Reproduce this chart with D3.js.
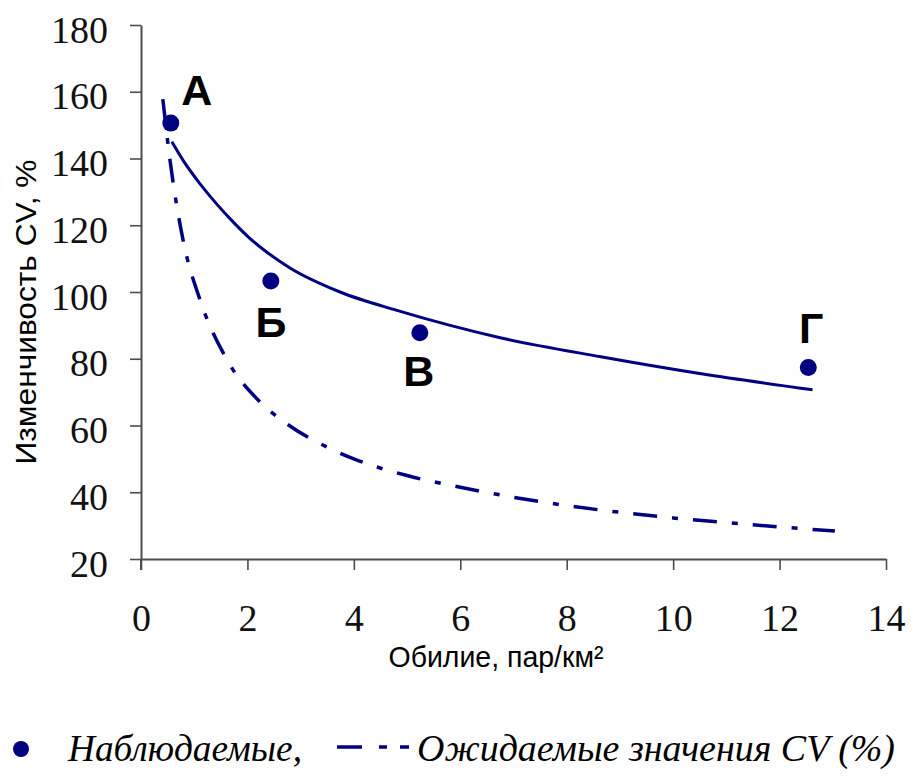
<!DOCTYPE html>
<html>
<head>
<meta charset="utf-8">
<script src="https://cdn.jsdelivr.net/npm/d3@7"></script>
<style>
  body { margin: 0; background: #fff; }
  svg { display: block; }
</style>
</head>
<body>
<div id="chart"></div>
<script>
// observed CV values
const obsX = [0.56, 2.44, 5.24, 12.54];
const obsY = [150.6, 103.3, 87.8, 77.4];
const obsLabels = ["А", "Б", "В", "Г"];

// fitted curve (solid)
const fitX = [0.58, 0.8, 1.11, 1.42, 1.73, 2.05, 2.36, 2.8, 3.74, 4.81, 5.81, 6.75, 8.64, 10.53, 12.62];
const fitY = [145, 139.2, 132.4, 126.4, 121, 116, 112, 107.2, 100, 94.5, 90, 86.3, 80.6, 75.5, 70.7];

// expected CV (dash-dot)
const expX = [0.41, 0.545, 0.79, 1.11, 1.62, 2.24, 2.74, 3.5, 4, 5, 6, 7, 8, 9, 10, 11, 12, 13.04];
const expY = [157.8, 139.5, 115.6, 97.6, 79.6, 67, 60.5, 53.5, 50, 45, 41.5, 38.5, 36, 34, 32.3, 30.9, 29.6, 28.4];

const xTicks = [0, 2, 4, 6, 8, 10, 12, 14];
const yTicks = [20, 40, 60, 80, 100, 120, 140, 160, 180];

const width = 913, height = 776;
const navy = "#000080";

const svg = d3.select("#chart").append("svg")
  .attr("width", width)
  .attr("height", height);

const x = d3.scaleLinear().domain([0, 14]).range([141, 886]);
const y = d3.scaleLinear().domain([20, 180]).range([559, 25]);

// axes
const xAxis = svg.append("g")
  .attr("transform", "translate(0," + y(20) + ")")
  .call(d3.axisBottom(x).tickValues(xTicks).tickSize(11).tickPadding(35).tickSizeOuter(0));

const yAxis = svg.append("g")
  .attr("transform", "translate(" + x(0) + ",0)")
  .call(d3.axisLeft(y).tickValues(yTicks).tickSize(11).tickPadding(22).tickSizeOuter(0));

[xAxis, yAxis].forEach(g => {
  g.select(".domain").attr("stroke", "#4d4d4d").attr("stroke-width", 2);
  g.selectAll(".tick line").attr("stroke", "#4d4d4d").attr("stroke-width", 1.6);
  g.selectAll("text")
    .attr("font-family", "'Liberation Serif', 'Times New Roman', serif")
    .attr("font-size", 38)
    .attr("fill", "#111");
});
yAxis.selectAll("text").attr("dy", "0.45em");
xAxis.selectAll("text").attr("dy", "0.68em");
// y axis continues down past the x axis
svg.append("line")
  .attr("x1", x(0)).attr("x2", x(0))
  .attr("y1", y(20)).attr("y2", y(20) + 11)
  .attr("stroke", "#4d4d4d").attr("stroke-width", 2);

// axis titles
svg.append("text")
  .attr("x", 496).attr("y", 667)
  .attr("text-anchor", "middle")
  .attr("font-family", "'Liberation Sans', Arial, sans-serif")
  .attr("font-size", 30)
  .attr("textLength", 215)
  .attr("lengthAdjust", "spacingAndGlyphs")
  .text("Обилие, пар/км²");

svg.append("text")
  .attr("transform", "translate(36,312) rotate(-90)")
  .attr("text-anchor", "middle")
  .attr("font-family", "'Liberation Sans', Arial, sans-serif")
  .attr("font-size", 30)
  .attr("textLength", 305)
  .attr("lengthAdjust", "spacingAndGlyphs")
  .text("Изменчивость CV, %");

// lines
const line = d3.line()
  .x(d => x(d[0]))
  .y(d => y(d[1]))
  .curve(d3.curveMonotoneX);

svg.append("path")
  .datum(expX.map((v, i) => [v, expY[i]]))
  .attr("d", line)
  .attr("fill", "none")
  .attr("stroke", navy)
  .attr("stroke-width", 3.5)
  .attr("stroke-dasharray", "24 15 6 15");

svg.append("path")
  .datum(fitX.map((v, i) => [v, fitY[i]]))
  .attr("d", line)
  .attr("fill", "none")
  .attr("stroke", navy)
  .attr("stroke-width", 3);

// observed points
svg.append("g").selectAll("circle")
  .data(obsX)
  .enter()
  .append("circle")
  .attr("cx", d => x(d))
  .attr("cy", (d, i) => y(obsY[i]))
  .attr("r", 8.5)
  .attr("fill", navy);

// point labels
const labelOffsets = [[26, -18], [0, 56], [-1, 53], [3, -24]];
svg.append("g").selectAll("text")
  .data(obsLabels)
  .enter()
  .append("text")
  .attr("x", (d, i) => x(obsX[i]) + labelOffsets[i][0])
  .attr("y", (d, i) => y(obsY[i]) + labelOffsets[i][1])
  .attr("text-anchor", "middle")
  .attr("font-family", "'Liberation Sans', Arial, sans-serif")
  .attr("font-weight", "bold")
  .attr("font-size", 43)
  .attr("fill", "#000")
  .text(d => d);

// legend
const legend = svg.append("g");
legend.append("circle")
  .attr("cx", 21).attr("cy", 749).attr("r", 8)
  .attr("fill", navy);
legend.append("text")
  .attr("x", 68).attr("y", 761)
  .attr("font-family", "'Liberation Serif', 'Times New Roman', serif")
  .attr("font-style", "italic")
  .attr("font-size", 38)
  .attr("textLength", 234)
  .attr("lengthAdjust", "spacingAndGlyphs")
  .text("Наблюдаемые,");
legend.append("line")
  .attr("x1", 337).attr("x2", 409)
  .attr("y1", 747).attr("y2", 747)
  .attr("stroke", navy)
  .attr("stroke-width", 3.5)
  .attr("stroke-dasharray", "25 17 8 13 9");
legend.append("text")
  .attr("x", 417).attr("y", 761)
  .attr("font-family", "'Liberation Serif', 'Times New Roman', serif")
  .attr("font-style", "italic")
  .attr("font-size", 38)
  .attr("textLength", 478)
  .attr("lengthAdjust", "spacingAndGlyphs")
  .text("Ожидаемые значения CV (%)");
</script>
</body>
</html>
